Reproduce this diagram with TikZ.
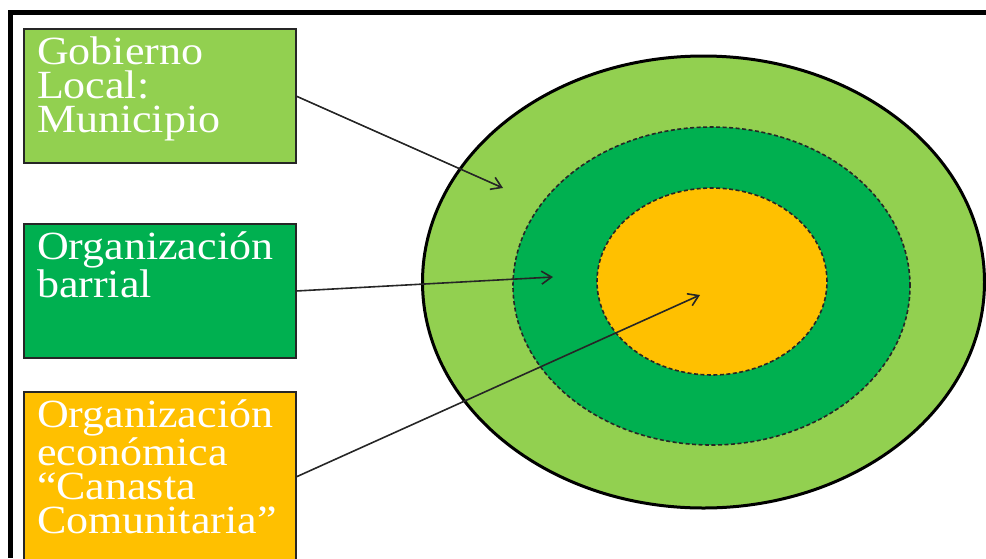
\documentclass[tikz,border=0pt]{standalone}
\usepackage{fontspec}
\newfontfamily\boxfont[FakeStretch=1.1]{Liberation Serif}
\usetikzlibrary{shapes.geometric,arrows.meta}
\definecolor{lgreen}{HTML}{92D050}
\definecolor{dgreen}{HTML}{00B050}
\definecolor{gold}{HTML}{FFC000}
\definecolor{boxline}{HTML}{262626}
\definecolor{dashline}{HTML}{262626}
\begin{document}
\begin{tikzpicture}[x=1pt,y=-1pt,
  box/.style={draw=boxline, line width=1.2pt, anchor=north west, inner xsep=13pt, inner ysep=8pt,
    outer sep=0pt, text=white, font=\boxfont\fontsize{40}{34}\selectfont},
  ring/.style={ellipse, inner sep=0pt, outer sep=0pt},
  dashring/.style={ring, draw=dashline, line width=1.6pt, dash pattern=on 4pt off 2.5pt},
  conn/.style={draw=black!85, line width=1.6pt, -{Straight Barb[length=10pt,width=13pt,line width=1.6pt]}}
]
\useasboundingbox (0,0) rectangle (986,558);
% frame
\draw[line width=4.5pt] (986,12.5) -- (10.7,12.5) -- (10.7,558);
% rings
\node[ring, fill=lgreen, draw=black, line width=3pt, minimum width=562pt, minimum height=452pt] (outer) at (703.5,282) {};
\node[dashring, fill=dgreen, minimum width=397pt, minimum height=318pt] (middle) at (711.5,286) {};
\node[dashring, fill=gold, minimum width=230pt, minimum height=187pt] (inner) at (712,281.5) {};
% boxes
\node[box, fill=lgreen] (gob) at (24,29) {\parbox[c][118pt][t]{246pt}{\raggedright Gobierno\\Local:\\Municipio}};
\node[box, fill=dgreen] (barrio) at (24,224) {\parbox[c][118pt][t]{246pt}{\raggedright Organización\\barrial}};
\node[box, fill=gold] (canasta) at (24,392) {\parbox[c][154pt][t]{246pt}{\raggedright Organización\\económica\\“Canasta\\Comunitaria”}};
% arrow targets
\coordinate (t1) at (503,188);
\coordinate (t2) at (553,277);
\coordinate (t3) at (700,295);
\draw[conn] (gob.east) -- (t1);
\draw[conn] (barrio.east) -- (t2);
\draw[conn] (canasta.east) -- (t3);
\end{tikzpicture}
\end{document}
